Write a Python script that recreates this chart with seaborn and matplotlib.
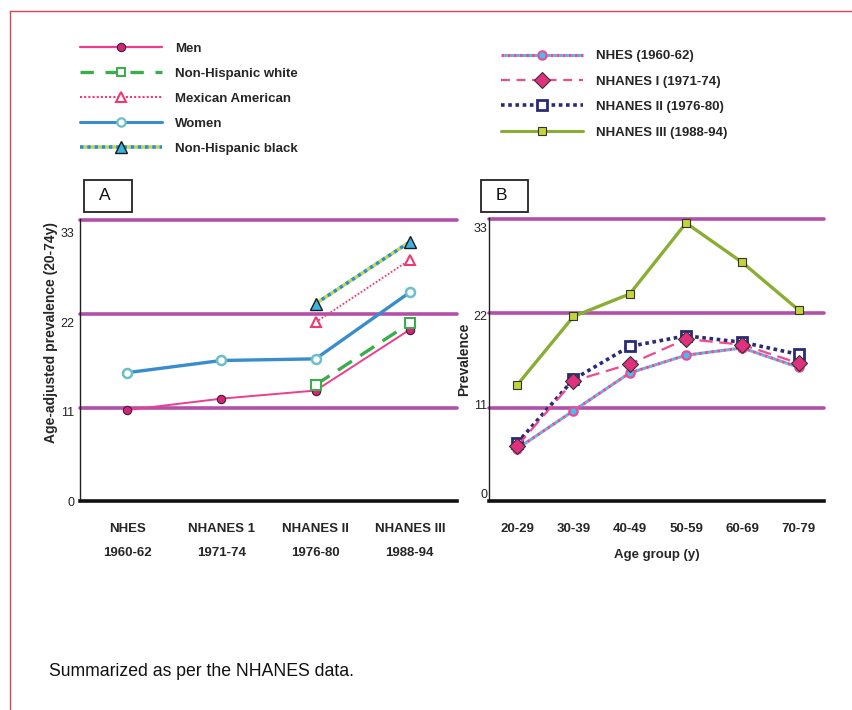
import numpy as np
import pandas as pd
import matplotlib
matplotlib.use("Agg")
import matplotlib.pyplot as plt
from matplotlib.lines import Line2D
from matplotlib.patches import Rectangle
from matplotlib.legend_handler import HandlerTuple
import seaborn as sns

# ---------------- data ----------------
surveys = ["NHES", "NHANES 1", "NHANES II", "NHANES III"]
survey_years = ["1960-62", "1971-74", "1976-80", "1988-94"]
men = [11.2, 12.6, 13.6, 21.1]
women = [15.8, 17.3, 17.5, 25.7]
nh_white = [np.nan, np.nan, 14.3, 21.9]
mexican_american = [np.nan, np.nan, 22.0, 29.7]
nh_black = [np.nan, np.nan, 24.3, 31.9]

age_groups = ["20-29", "30-39", "40-49", "50-59", "60-69", "70-79"]
nhes_1960 = [5.5, 10.2, 14.9, 17.1, 18.0, 15.6]
nhanes1_1971 = [5.8, 13.9, 16.0, 19.1, 18.4, 16.1]
nhanes2_1976 = [6.2, 14.1, 18.2, 19.5, 18.7, 17.2]
nhanes3_1988 = [13.4, 21.9, 24.7, 33.5, 28.6, 22.7]

y_ticks = [0, 11, 22, 33]

# ---------------- style ----------------
sns.set_theme(style="white")
plt.rcParams["font.family"] = ["Liberation Sans", "DejaVu Sans"]

W, H = 853, 710
fig = plt.figure(figsize=(W / 100, H / 100), dpi=100)

def fx(px):
    return px / W

def fy(py):
    return 1 - py / H

axA = fig.add_axes([fx(80), fy(501), fx(457) - fx(80), fy(219) - fy(501)])
axB = fig.add_axes([fx(489), fy(501), fx(824) - fx(489), fy(218) - fy(501)])

PURPLE = "#b24fa6"

def series(ax, values, **kw):
    df = pd.DataFrame({"x": np.arange(len(values)), "y": values}).dropna()
    sns.lineplot(data=df, x="x", y="y", ax=ax, legend=False, sort=True, **kw)

# colours
C_MEN, C_MEN_M = "#ee3d8f", "#d8227a"
C_NHW = "#3aae4a"
C_MEX = "#ee3a70"
C_WOM, C_WOM_M = "#3a8dcc", "#6bbfc6"
C_BLK_B, C_BLK_Y, C_BLK_M = "#2b8fcf", "#c9d93b", "#3ab4df"
C_NHES_P, C_NHES_C = "#ee4a9a", "#40c0ec"
C_N1 = "#ee4a90"
C_N1_M = "#e0307e"
C_N2 = "#2a2a78"
C_N3, C_N3_M = "#8aae34", "#c3d43a"
DARK = "#3a2030"

# ---------------- panel A ----------------
for v in [11.45, 23.06, 34.6]:
    axA.axhline(v, color=PURPLE, lw=2.6, clip_on=False, zorder=1)

series(axA, men, color=C_MEN, lw=1.4, marker="o", ms=6, mfc=C_MEN_M, mec=DARK, mew=0.8, zorder=5)
series(axA, nh_white, color=C_NHW, lw=2.4, linestyle=(0, (5, 3)), marker="s", ms=6.5,
       mfc="white", mec=C_NHW, mew=1.5, zorder=5)
series(axA, mexican_american, color=C_MEX, lw=1.3, linestyle=(0, (1, 1)), marker="^", ms=7,
       mfc="white", mec=C_MEX, mew=1.5, zorder=5)
series(axA, women, color=C_WOM, lw=2.4, marker="o", ms=6.5, mfc="white", mec=C_WOM_M, mew=1.8, zorder=5)
series(axA, nh_black, color=C_BLK_Y, lw=2.6, linestyle=(1, (1, 1)), zorder=4)
series(axA, nh_black, color=C_BLK_B, lw=2.6, linestyle=(0, (1, 1)), marker="^", ms=9,
       mfc=C_BLK_M, mec="#1a1a1a", mew=1.0, zorder=5)

axA.set_xlim(-0.5, 3.5)
axA.set_ylim(0, 34.72)
axA.set_yticks(y_ticks)
axA.set_yticklabels([str(t) for t in y_ticks], fontsize=9)
axA.set_xticks(np.arange(len(surveys)))
axA.set_xticklabels([f"{s}\n{y}" for s, y in zip(surveys, survey_years)],
                    fontsize=9.5, fontweight="bold", linespacing=2.4)
axA.tick_params(axis="x", length=0, pad=15.5)
axA.tick_params(axis="y", length=0, pad=4)
axA.set_xlabel("")
axA.set_ylabel("Age-adjusted prevalence (20-74y)", fontsize=10, fontweight="bold")
axA.yaxis.set_label_coords(-0.058, 0.596)

# ---------------- panel B ----------------
for v in [10.55, 22.33, 34.05]:
    axB.axhline(v, color=PURPLE, lw=2.6, clip_on=False, zorder=1)

series(axB, nhes_1960, color=C_NHES_C, lw=2.2, linestyle=(1, (1, 1)), zorder=4)
series(axB, nhes_1960, color=C_NHES_P, lw=2.2, linestyle=(0, (1, 1)), marker="o", ms=6,
       mfc=C_NHES_C, mec=C_NHES_P, mew=1.6, zorder=5)
series(axB, nhanes1_1971, color=C_N1, lw=1.6, linestyle=(0, (6, 3)), marker="D", ms=8.5,
       mfc=C_N1_M, mec="#333333", mew=0.8, zorder=6)
series(axB, nhanes2_1976, color=C_N2, lw=2.6, linestyle=(0, (1, 1)), marker="s", ms=6.5,
       mfc="white", mec=C_N2, mew=2.0, zorder=5)
series(axB, nhanes3_1988, color=C_N3, lw=2.4, marker="s", ms=6,
       mfc=C_N3_M, mec="#333333", mew=0.8, zorder=5)

axB.set_xlim(-0.5, 5.45)
axB.set_ylim(-0.99, 34.12)
axB.set_yticks(y_ticks)
axB.set_yticklabels([str(t) for t in y_ticks], fontsize=9)
axB.set_xticks(np.arange(len(age_groups)))
axB.set_xticklabels(age_groups, fontsize=9.5, fontweight="bold")
axB.tick_params(axis="x", length=0, pad=16)
axB.tick_params(axis="y", length=0, pad=1)
axB.set_xlabel("Age group (y)", fontsize=9.5, fontweight="bold", labelpad=10)
axB.set_ylabel("Prevalence", fontsize=10, fontweight="bold")
axB.yaxis.set_label_coords(-0.052, 0.5)

for ax in (axA, axB):
    sns.despine(ax=ax)
    ax.spines["left"].set_color("#222222")
    ax.spines["left"].set_linewidth(1.0)
    ax.spines["bottom"].set_color("#111111")
    ax.spines["bottom"].set_linewidth(2.6)
    ax.grid(False)
    ax.set_facecolor("none")
    for lab in ax.get_yticklabels():
        lab.set_color("#222222")

# ---------------- panel letters ----------------
for (x0, x1, letter, tx) in [(84, 131.7, "A", 105), (480.7, 527.7, "B", 501)]:
    fig.add_artist(Rectangle((fx(x0), fy(211.7)), fx(x1) - fx(x0), fy(180) - fy(211.7),
                             transform=fig.transFigure, fill=False, ec="#222222", lw=1.3))
    fig.text(fx(tx), fy(196), letter, fontsize=12.5, ha="center", va="center", color="#111111")

# ---------------- legends ----------------
def h(color, ls="-", lw=2.0, marker=None, ms=6, mfc="white", mec=None, mew=1.2):
    return Line2D([], [], color=color, linestyle=ls, lw=lw, marker=marker, markersize=ms,
                  markerfacecolor=mfc, markeredgecolor=mec if mec else color, markeredgewidth=mew)

left_handles = [
    h(C_MEN, lw=1.6, marker="o", ms=6, mfc=C_MEN_M, mec=DARK, mew=0.8),
    h(C_NHW, ls=(0, (4, 3.5)), lw=2.4, marker="s", ms=6, mec=C_NHW, mew=1.4),
    h(C_MEX, ls=(0, (1, 1)), lw=1.5, marker="^", ms=6.5, mec=C_MEX, mew=1.5),
    h(C_WOM, lw=2.2, marker="o", ms=6, mec=C_WOM_M, mew=1.6),
    (h(C_BLK_Y, ls=(1, (1, 1)), lw=2.6), h(C_BLK_B, ls=(0, (1, 1)), lw=2.6, marker="^", ms=9,
                                           mfc=C_BLK_M, mec="#1a1a1a", mew=1.0)),
]
left_labels = ["Men", "Non-Hispanic white", "Mexican American", "Women", "Non-Hispanic black"]

right_handles = [
    (h(C_NHES_C, ls=(1, (1, 1)), lw=2.2), h(C_NHES_P, ls=(0, (1, 1)), lw=2.2, marker="o", ms=6,
                                             mfc=C_NHES_C, mec=C_NHES_P, mew=1.6)),
    h(C_N1, ls=(0, (4, 3)), lw=1.6, marker="D", ms=8.5, mfc=C_N1_M, mec="#333333", mew=0.8),
    h(C_N2, ls=(0, (1, 1)), lw=2.6, marker="s", ms=6.5, mec=C_N2, mew=2.0),
    h(C_N3, lw=2.2, marker="s", ms=6, mfc=C_N3_M, mec="#333333", mew=0.8),
]
right_labels = ["NHES (1960-62)", "NHANES I (1971-74)", "NHANES II (1976-80)", "NHANES III (1988-94)"]

common = dict(frameon=False, borderpad=0, borderaxespad=0, handlelength=6.2,
              handletextpad=1.0, numpoints=1,
              prop={"weight": "bold", "size": 9.5},
              handler_map={tuple: HandlerTuple(ndivide=1, pad=0)})
fig.legend(left_handles, left_labels, loc="upper left", labelspacing=0.97,
           bbox_to_anchor=(fx(80), fy(42.5)), **common)
fig.legend(right_handles, right_labels, loc="upper left", labelspacing=1.0,
           bbox_to_anchor=(fx(500.7), fy(50)), **common)

# ---------------- footer and frame ----------------
fig.text(fx(49), fy(672), "Summarized as per the NHANES data.", fontsize=12.7,
         ha="left", va="center", color="#111111")
RED = "#e0454f"
fig.add_artist(Line2D([fx(10.5), fx(10.5)], [fy(710), fy(10.5)], transform=fig.transFigure,
                      color=RED, lw=1.0))
fig.add_artist(Line2D([fx(10.5), fx(853)], [fy(10.5), fy(10.5)], transform=fig.transFigure,
                      color=RED, lw=1.0))

fig.savefig("out.png", dpi=100, facecolor="white")
